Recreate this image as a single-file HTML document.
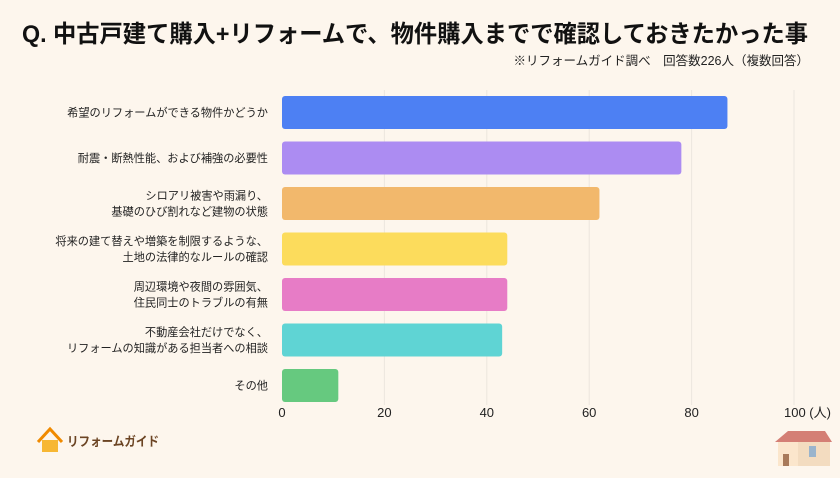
<!DOCTYPE html>
<html><head><meta charset="utf-8"><style>
body{margin:0;width:840px;height:473px;background:#fdf6ed;overflow:hidden;font-family:"Liberation Sans","Noto Sans CJK JP",sans-serif;}
svg text{font-family:"Liberation Sans","Noto Sans CJK JP",sans-serif;}
</style></head><body>
<svg width="840" height="473">
<text x="22" y="42" font-size="24" font-weight="bold" fill="#111" textLength="786" lengthAdjust="spacingAndGlyphs">Q. 中古戸建て購入+リフォームで、物件購入までで確認しておきたかった事</text>
<text x="809" y="65" font-size="12.5" fill="#222" text-anchor="end">※リフォームガイド調べ　回答数226人（複数回答）</text>
<g id="grid"></g><g id="bars"></g><g id="labels"></g><g id="ticks"></g>
<g>
<path d="M38 442 L50 429 L62 442" fill="none" stroke="#f08a00" stroke-width="3"/>
<rect x="42" y="440" width="16" height="12" fill="#f7b733"/>
<text x="67" y="446" font-size="13" font-weight="bold" fill="#6b4423" textLength="92" lengthAdjust="spacingAndGlyphs">リフォームガイド</text>
</g>
<g>
<rect x="778" y="440" width="52" height="26" fill="#f3dcc0"/>
<rect x="778" y="440" width="20" height="26" fill="#fbe6cc"/>
<path d="M775 442 L788 431 L825 431 L832 442 Z" fill="#d47f75"/>
<rect x="783" y="454" width="6" height="12" fill="#a87a5a"/>
<rect x="809" y="446" width="7" height="11" fill="#9ab4cc"/>
</g>
</svg>
<script>
const categories=[["希望のリフォームができる物件かどうか"],["耐震・断熱性能、および補強の必要性"],["シロアリ被害や雨漏り、","基礎のひび割れなど建物の状態"],["将来の建て替えや増築を制限するような、","土地の法律的なルールの確認"],["周辺環境や夜間の雰囲気、","住民同士のトラブルの有無"],["不動産会社だけでなく、","リフォームの知識がある担当者への相談"],["その他"]];
const values=[87,78,62,44,44,43,11];
const colors=["#4d80f3","#ac8cf2","#f2b86c","#fcdc5c","#e77cc6","#5fd4d4","#66c97f"];
const ticks=[0,20,40,60,80,100];
const NS="http://www.w3.org/2000/svg";
const x=v=>282+v*5.12;
const yc=i=>112.5+i*45.5;
function mk(t,a,p){const e=document.createElementNS(NS,t);for(const k in a)e.setAttribute(k,a[k]);document.getElementById(p).appendChild(e);return e;}
ticks.forEach(t=>{
 if(t>0){const g=mk("line",{x1:x(t),x2:x(t),y1:90,y2:405,stroke:"#ece6de","stroke-width":1},"grid");
 
 }
 const l=mk("text",{x:x(t),y:417,"font-size":13,fill:"#222","text-anchor":t===100?"start":"middle"},"ticks");
 if(t===100)l.setAttribute("x",x(t)-10);
 l.textContent=t===100?"100 (人)":String(t);
 
 
});
values.forEach((v,i)=>{
 const r=mk("rect",{x:x(0),y:yc(i)-16.5,width:x(v)-x(0),height:33,rx:3,fill:colors[i]},"bars");
 
 
 const lines=categories[i];
 lines.forEach((s,j)=>{
  const t=mk("text",{x:268,y:yc(i)+4+(j-(lines.length-1)/2)*16,"font-size":11.2,fill:"#222","text-anchor":"end"},"labels");
  t.textContent=s;
  
  
 });
});
</script>
</body></html>
